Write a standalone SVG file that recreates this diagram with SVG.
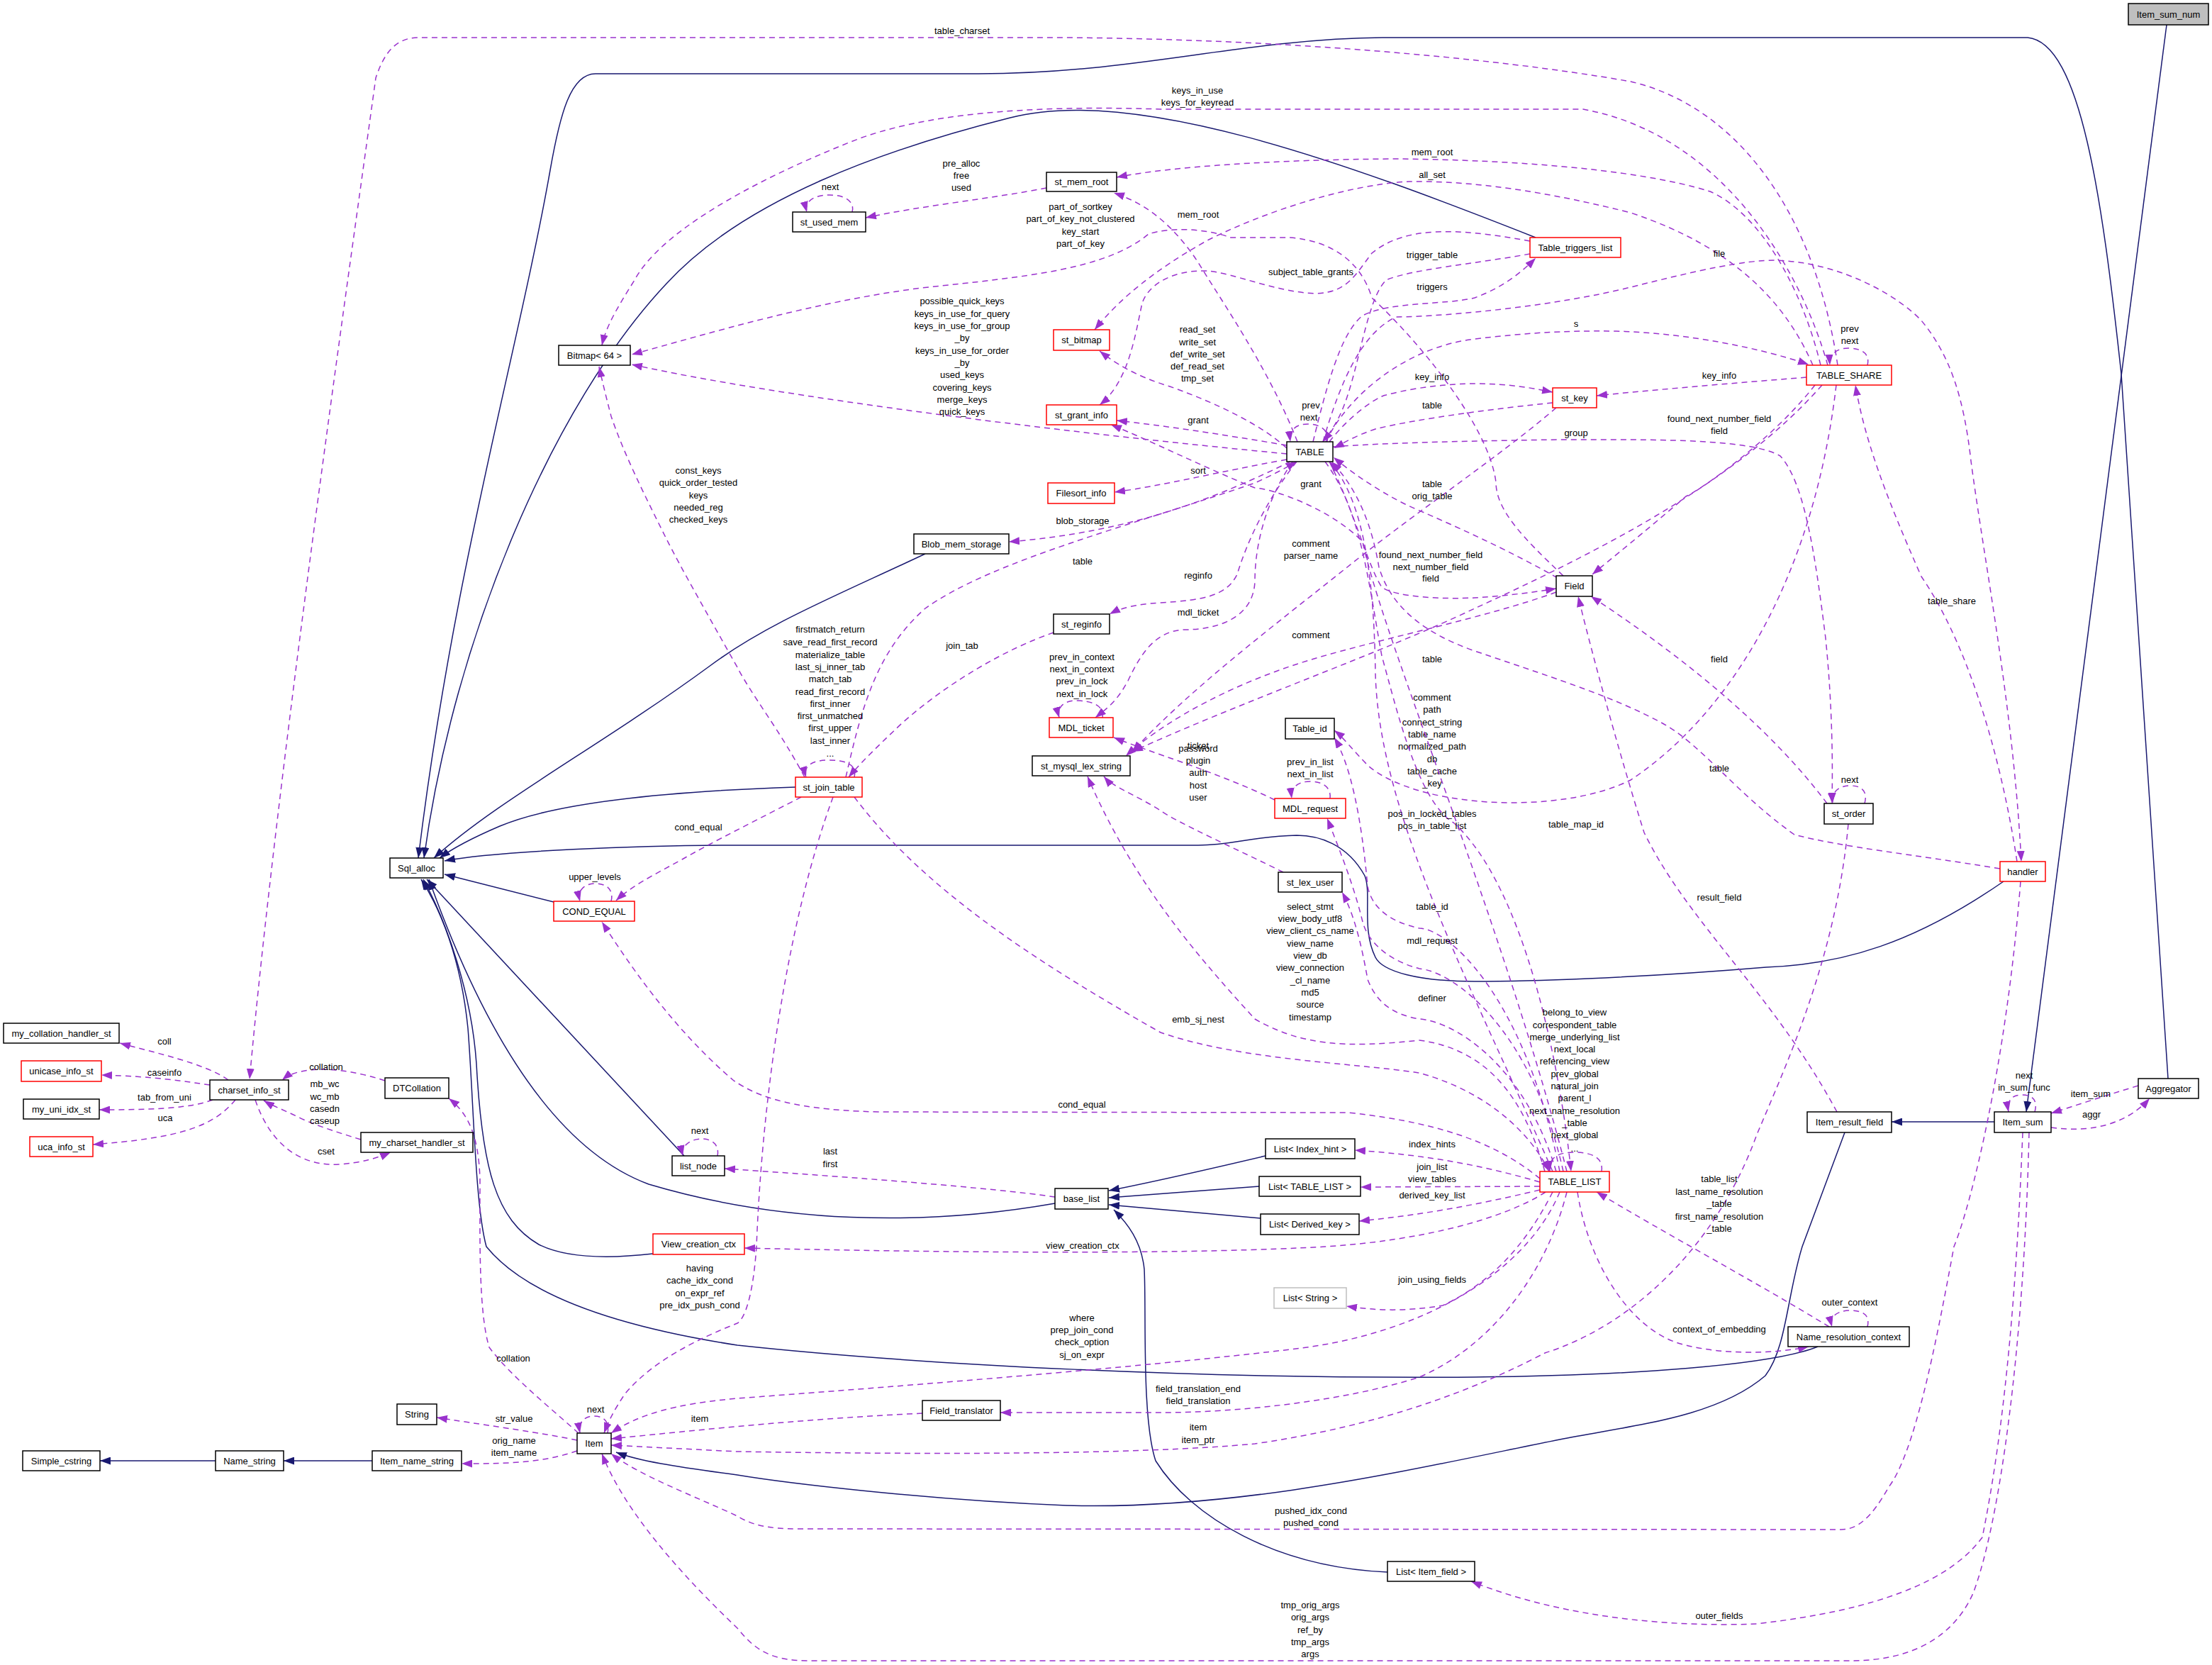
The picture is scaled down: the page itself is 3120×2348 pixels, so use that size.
<svg xmlns="http://www.w3.org/2000/svg" width="3120" height="2348" viewBox="0 0 3120 2348">
<style>
text{font-family:"Liberation Sans",Arial,Helvetica,sans-serif;font-size:13px;fill:#000}
.n rect{fill:#fff;stroke:#000;stroke-width:1.5}
.n.r rect{stroke:#f00}
.n.g rect{stroke:#bfbfbf}
.n.f rect{fill:#bfbfbf}
.n text,.l{text-anchor:middle}
.i{fill:none;stroke:#191970;stroke-width:1.5;marker-end:url(#ai)}
.u{fill:none;stroke:#9a32cd;stroke-width:1.5;stroke-dasharray:8,6;marker-end:url(#au)}
</style>
<defs>
<marker id="ai" markerUnits="userSpaceOnUse" markerWidth="15" markerHeight="11" viewBox="0 0 15 11" refX="15" refY="5.5" orient="auto"><path d="M0,0 L15,5.5 L0,11 z" fill="#191970"/></marker>
<marker id="au" markerUnits="userSpaceOnUse" markerWidth="15" markerHeight="11" viewBox="0 0 15 11" refX="15" refY="5.5" orient="auto"><path d="M0,0 L15,5.5 L0,11 z" fill="#9a32cd"/></marker>
</defs>
<rect width="3120" height="2348" fill="#fff"/>
<g id="connectors">
<path class="i" d="M3056,35 L2858,1568"/>
<path class="i" d="M3058,1521 L2992,527 C2965,280 2935,60 2860,53 L1950,53 C1750,55 1600,104 1380,104 L840,104 C805,104 790,160 776,240 C730,500 640,800 590,1210"/>
<path class="i" d="M2166,335 C1900,230 1600,120 1425,166 C1250,210 1050,280 940,400 C780,570 640,900 598,1210"/>
<path class="i" d="M1305,781 C1180,840 1080,880 1000,940 C850,1050 700,1130 612,1210"/>
<path class="i" d="M1122,1110 C1000,1114 800,1125 705,1165 C670,1180 640,1195 620,1210"/>
<path class="i" d="M781,1272 L627,1233"/>
<path class="i" d="M965,1630 L602,1240"/>
<path class="i" d="M1488,1697 C1300,1730 1100,1725 915,1670 C780,1620 680,1450 605,1240"/>
<path class="i" d="M921,1768 C860,1775 800,1775 760,1755 C700,1720 680,1650 672,1500 C665,1400 630,1300 597,1240"/>
<path class="i" d="M2564,1899 C2500,1925 2300,1940 2080,1942 C1700,1945 1300,1925 1040,1897 C800,1860 720,1800 686,1758 C670,1700 668,1550 660,1450 C650,1350 620,1280 594,1240"/>
<path class="i" d="M2602,1597 L2542,1758 C2520,1830 2520,1900 2490,1940 C2420,2000 2300,2010 2200,2030 C2000,2070 1750,2130 1504,2123 C1300,2115 1100,2090 1040,2080 C950,2068 900,2060 869,2048"/>
<path class="i" d="M2813,1582 L2668,1582"/>
<path class="i" d="M2826,1243 C2700,1330 2600,1360 2491,1364 C2300,1380 2150,1384 2080,1384 C2000,1384 1950,1370 1940,1350 C1920,1310 1935,1260 1925,1235 C1900,1190 1860,1178 1829,1178 C1760,1180 1740,1192 1690,1192 L1040,1192 C900,1192 700,1200 627,1214"/>
<path class="i" d="M304,2060 L141,2060"/>
<path class="i" d="M525,2060 L400,2060"/>
<path class="i" d="M1785,1630 C1700,1650 1620,1668 1564,1679"/>
<path class="i" d="M1776,1673 L1564,1689"/>
<path class="i" d="M1778,1718 L1564,1699"/>
<path class="i" d="M1957,2217 C1800,2210 1680,2140 1630,2060 C1610,2000 1617,1850 1614,1790 C1610,1750 1590,1725 1571,1706"/>

<path class="u" d="M2592,515 C2560,300 2450,150 2300,115 C2100,80 1800,55 1500,53 L590,53 C555,53 540,80 530,110 C490,400 390,1100 352,1522"/>
<text class="l" x="1357" y="48">table_charset</text>
<path class="u" d="M2578,515 C2540,380 2430,190 2233,154 L1637,154 C1450,148 1300,160 1200,200 C1050,260 930,330 895,395 C870,435 855,460 849,487"/>
<text class="l"><tspan x="1689" y="132">keys_in_use</tspan><tspan x="1689" y="149">keys_for_keyread</tspan></text>
<path class="u" d="M2568,515 C2540,400 2480,300 2412,270 C2300,235 2100,225 1969,224 C1800,225 1650,235 1575,250"/>
<text class="l" x="2020" y="219">mem_root</text>
<path class="u" d="M2557,515 C2520,430 2450,350 2300,300 C2150,262 2050,255 1988,256 C1900,260 1780,300 1703,339 C1630,380 1580,420 1544,465"/>
<text class="l" x="2020" y="251">all_set</text>
<path class="u" d="M1830,623 C1790,520 1720,420 1690,370 C1650,310 1610,285 1571,272"/>
<text class="l" x="1690" y="307">mem_root</text>
<path class="u" d="M2205,812 C2150,760 2110,720 2110,680 C2100,600 2000,480 1935,420 C1920,370 1880,340 1820,335 L1736,335 C1700,322 1650,320 1620,330 C1560,380 1450,390 1300,406 C1150,425 1000,470 891,500"/>
<text class="l"><tspan x="1524" y="296">part_of_sortkey</tspan><tspan x="1524" y="313">part_of_key_not_clustered</tspan><tspan x="1524" y="331">key_start</tspan><tspan x="1524" y="348">part_of_key</tspan></text>
<path class="u" d="M1476,265 C1400,280 1300,290 1221,307"/>
<text class="l"><tspan x="1356" y="235">pre_alloc</tspan><tspan x="1356" y="252">free</tspan><tspan x="1356" y="269">used</tspan></text>
<path class="u" d="M1202,299 C1206,284 1192,275 1170,275 C1148,275 1134,284 1138,299"/>
<text class="l" x="1171" y="268">next</text>
<path class="u" d="M2158,340 C2050,320 1980,320 1935,357 C1910,390 1900,412 1856,414 C1800,412 1740,385 1703,382 C1650,380 1615,405 1610,432 C1600,480 1590,540 1551,571"/>
<text class="l" x="1849" y="388">subject_table_grants</text>
<path class="u" d="M2158,358 C2080,372 1990,380 1955,395 C1930,420 1920,500 1900,560 C1890,590 1880,605 1866,623"/>
<text class="l" x="2020" y="364">trigger_table</text>
<path class="u" d="M1852,623 C1870,550 1890,470 1922,445 C1960,425 2040,430 2080,420 C2120,405 2145,385 2166,364"/>
<text class="l" x="2020" y="409">triggers</text>
<path class="u" d="M1815,632 C1780,600 1720,570 1650,545 C1600,530 1570,510 1551,495"/>
<text class="l"><tspan x="1689" y="469">read_set</tspan><tspan x="1689" y="487">write_set</tspan><tspan x="1689" y="504">def_write_set</tspan><tspan x="1689" y="521">def_read_set</tspan><tspan x="1689" y="538">tmp_set</tspan></text>
<path class="u" d="M1815,640 C1500,610 1100,560 891,514"/>
<text class="l"><tspan x="1357" y="429">possible_quick_keys</tspan><tspan x="1357" y="447">keys_in_use_for_query</tspan><tspan x="1357" y="464">keys_in_use_for_group</tspan><tspan x="1357" y="481">_by</tspan><tspan x="1357" y="499">keys_in_use_for_order</tspan><tspan x="1357" y="516">_by</tspan><tspan x="1357" y="533">used_keys</tspan><tspan x="1357" y="551">covering_keys</tspan><tspan x="1357" y="568">merge_keys</tspan><tspan x="1357" y="585">quick_keys</tspan></text>
<path class="u" d="M1815,628 C1720,612 1640,600 1575,593"/>
<text class="l" x="1690" y="597">grant</text>
<path class="u" d="M1815,648 C1720,665 1640,685 1572,694"/>
<text class="l" x="1690" y="668">sort</text>
<path class="u" d="M1820,651 C1720,700 1600,750 1423,764"/>
<text class="l" x="1527" y="739">blob_storage</text>
<path class="u" d="M1193,1096 C1215,1000 1235,920 1305,858 C1400,790 1600,740 1770,681 C1790,672 1810,662 1829,651"/>
<text class="l" x="1527" y="796">table</text>
<path class="u" d="M1205,1096 C1209,1077 1192,1072 1168,1072 C1146,1072 1132,1080 1137,1096"/>
<text class="l"><tspan x="1171" y="892">firstmatch_return</tspan><tspan x="1171" y="910">save_read_first_record</tspan><tspan x="1171" y="928">materialize_table</tspan><tspan x="1171" y="945">last_sj_inner_tab</tspan><tspan x="1171" y="962">match_tab</tspan><tspan x="1171" y="980">read_first_record</tspan><tspan x="1171" y="997">first_inner</tspan><tspan x="1171" y="1014">first_unmatched</tspan><tspan x="1171" y="1031">first_upper</tspan><tspan x="1171" y="1049">last_inner</tspan><tspan x="1171" y="1067">...</tspan></text>
<path class="u" d="M1135,1096 C1100,1030 1060,980 1040,941 C1000,870 960,800 940,760 C910,700 880,640 862,587 C855,560 850,540 845,517"/>
<text class="l"><tspan x="985" y="668">const_keys</tspan><tspan x="985" y="685">quick_order_tested</tspan><tspan x="985" y="703">keys</tspan><tspan x="985" y="720">needed_reg</tspan><tspan x="985" y="737">checked_keys</tspan></text>
<path class="u" d="M1486,892 C1420,915 1340,960 1272,1020 C1230,1060 1210,1080 1197,1096"/>
<text class="l" x="1357" y="915">join_tab</text>
<path class="u" d="M1829,651 C1790,700 1760,760 1745,810 C1730,840 1700,846 1637,850 C1600,852 1580,858 1565,866"/>
<text class="l" x="1690" y="816">reginfo</text>
<path class="u" d="M1823,651 C1790,700 1770,760 1770,820 C1768,870 1720,888 1670,888 C1630,890 1610,920 1591,960 C1575,990 1560,1000 1545,1012"/>
<text class="l" x="1690" y="868">mdl_ticket</text>
<path class="u" d="M1555,1012 C1558,995 1540,988 1518,988 C1500,988 1490,998 1494,1012"/>
<text class="l"><tspan x="1526" y="931">prev_in_context</tspan><tspan x="1526" y="948">next_in_context</tspan><tspan x="1526" y="965">prev_in_lock</tspan><tspan x="1526" y="983">next_in_lock</tspan></text>
<path class="u" d="M1798,1128 C1720,1090 1620,1060 1571,1040"/>
<text class="l" x="1690" y="1056">ticket</text>
<path class="u" d="M1876,1126 C1878,1110 1865,1102 1848,1102 C1831,1102 1820,1110 1822,1126"/>
<text class="l"><tspan x="1848" y="1079">prev_in_list</tspan><tspan x="1848" y="1096">next_in_list</tspan></text>
<path class="u" d="M2195,575 C2120,640 2000,720 1900,800 C1800,880 1680,970 1597,1060"/>
<text class="l"><tspan x="1849" y="771">comment</tspan><tspan x="1849" y="788">parser_name</tspan></text>
<path class="u" d="M2195,835 C2100,870 1950,900 1850,930 C1750,960 1650,1010 1588,1066"/>
<text class="l" x="1849" y="900">comment</text>
<path class="u" d="M2190,1652 C2080,1400 1945,1150 1940,950 C1938,800 1920,700 1875,651"/>
<text class="l" x="2020" y="934">table</text>
<path class="u" d="M2197,815 C2100,760 2000,720 1982,711 C1940,690 1905,665 1881,645"/>
<text class="l"><tspan x="2020" y="687">table</tspan><tspan x="2020" y="704">orig_table</tspan></text>
<path class="u" d="M1875,651 C1910,720 1930,800 1949,828 C1970,843 2040,845 2080,843 C2130,840 2170,834 2195,830"/>
<text class="l"><tspan x="2018" y="787">found_next_number_field</tspan><tspan x="2018" y="804">next_number_field</tspan><tspan x="2018" y="820">field</tspan></text>
<path class="u" d="M2560,543 C2500,620 2400,690 2378,700 C2320,750 2270,790 2246,810"/>
<text class="l"><tspan x="2425" y="595">found_next_number_field</tspan><tspan x="2425" y="612">field</tspan></text>
<path class="u" d="M1880,630 C1950,625 2050,622 2200,620 L2280,620 C2400,620 2480,625 2511,643 C2545,680 2560,780 2575,900 C2585,1000 2585,1080 2584,1133"/>
<text class="l" x="2223" y="615">group</text>
<path class="u" d="M1875,623 C1900,590 1940,560 1955,557 C2000,545 2050,541 2080,541 C2130,541 2165,548 2190,553"/>
<text class="l" x="2020" y="536">key_info</text>
<path class="u" d="M2190,568 C2120,575 2000,590 1940,605 C1910,615 1895,625 1881,632"/>
<text class="l" x="2020" y="576">table</text>
<path class="u" d="M2548,532 C2450,540 2350,548 2252,558"/>
<text class="l" x="2425" y="534">key_info</text>
<path class="u" d="M1870,623 C1900,560 1980,490 2080,478 C2150,470 2200,466 2280,467 C2380,470 2480,490 2551,514"/>
<text class="l" x="2223" y="461">s</text>
<path class="u" d="M2634,515 C2638,498 2625,491 2607,491 C2590,491 2580,500 2581,515"/>
<text class="l"><tspan x="2609" y="468">prev</tspan><tspan x="2609" y="485">next</tspan></text>
<path class="u" d="M2845,1215 C2820,1050 2770,900 2710,813 C2660,700 2630,620 2617,543"/>
<text class="l" x="2753" y="852">table_share</text>
<path class="u" d="M1866,623 C1890,540 1920,470 1969,447 C2050,446 2200,430 2300,405 C2400,380 2460,367 2504,367 C2600,370 2680,420 2710,452 C2750,500 2770,560 2780,650 C2800,800 2840,1000 2851,1215"/>
<text class="l" x="2425" y="362">file</text>
<path class="u" d="M1872,623 C1875,605 1860,598 1845,598 C1828,598 1818,606 1820,623"/>
<text class="l"><tspan x="1849" y="576">prev</tspan><tspan x="1846" y="593">next</tspan></text>
<path class="u" d="M2570,543 C2450,680 2250,780 2080,858 C1950,920 1750,990 1597,1060"/>
<text class="l"><tspan x="2020" y="988">comment</tspan><tspan x="2020" y="1005">path</tspan><tspan x="2020" y="1023">connect_string</tspan><tspan x="2020" y="1040">table_name</tspan><tspan x="2020" y="1057">normalized_path</tspan><tspan x="2020" y="1075">db</tspan><tspan x="2020" y="1092">table_cache</tspan><tspan x="2020" y="1109">_key</tspan></text>
<path class="u" d="M1810,1230 C1750,1200 1660,1160 1637,1143 C1600,1120 1570,1110 1557,1095"/>
<text class="l"><tspan x="1690" y="1060">password</tspan><tspan x="1690" y="1077">plugin</tspan><tspan x="1690" y="1094">auth</tspan><tspan x="1690" y="1112">host</tspan><tspan x="1690" y="1129">user</tspan></text>
<path class="u" d="M2179,1652 C2150,1550 2100,1480 2002,1467 C1900,1478 1836,1475 1770,1437 C1700,1360 1600,1250 1534,1095"/>
<text class="l"><tspan x="1848" y="1283">select_stmt</tspan><tspan x="1848" y="1300">view_body_utf8</tspan><tspan x="1848" y="1317">view_client_cs_name</tspan><tspan x="1848" y="1335">view_name</tspan><tspan x="1848" y="1352">view_db</tspan><tspan x="1848" y="1369">view_connection</tspan><tspan x="1848" y="1387">_cl_name</tspan><tspan x="1848" y="1404">md5</tspan><tspan x="1848" y="1421">source</tspan><tspan x="1848" y="1439">timestamp</tspan></text>
<path class="u" d="M1205,1124 C1300,1250 1450,1350 1637,1456 C1750,1495 1900,1498 2002,1513 C2100,1540 2160,1600 2185,1652"/>
<text class="l" x="1690" y="1442">emb_sj_nest</text>
<path class="u" d="M2172,1662 C2120,1620 2050,1585 1902,1569 L1239,1568 C1100,1565 1060,1540 1035,1524 C960,1460 900,1380 849,1300"/>
<text class="l" x="1526" y="1562">cond_equal</text>
<path class="u" d="M1130,1124 C1080,1150 1000,1190 962,1212 C920,1235 890,1250 869,1270"/>
<text class="l" x="985" y="1171">cond_equal</text>
<path class="u" d="M862,1271 C866,1255 856,1246 840,1246 C824,1246 814,1255 818,1271"/>
<text class="l" x="839" y="1241">upper_levels</text>
<path class="u" d="M1012,1630 C1015,1615 1005,1606 990,1606 C975,1606 960,1615 963,1630"/>
<text class="l" x="987" y="1599">next</text>
<path class="u" d="M1488,1688 C1400,1675 1200,1660 1022,1648"/>
<text class="l"><tspan x="1171" y="1628">last</tspan><tspan x="1171" y="1646">first</tspan></text>
<path class="u" d="M2172,1667 C2080,1640 2000,1628 1911,1622"/>
<text class="l" x="2020" y="1618">index_hints</text>
<path class="u" d="M2172,1673 L1919,1674"/>
<text class="l"><tspan x="2020" y="1650">join_list</tspan><tspan x="2020" y="1667">view_tables</tspan></text>
<path class="u" d="M2172,1678 C2080,1700 2000,1714 1917,1722"/>
<text class="l" x="2020" y="1690">derived_key_list</text>
<path class="u" d="M2180,1681 C2120,1720 2000,1750 1869,1758 C1700,1768 1400,1768 1050,1760"/>
<text class="l" x="1527" y="1761">view_creation_ctx</text>
<path class="u" d="M2190,1681 C2150,1760 2100,1810 2035,1841 C1980,1850 1940,1848 1899,1842"/>
<text class="l" x="2020" y="1809">join_using_fields</text>
<path class="u" d="M2200,1681 C2150,1800 2000,1880 1836,1901 C1600,1930 1200,1960 1040,1972 C950,1980 900,1995 862,2021"/>
<text class="l"><tspan x="1526" y="1863">where</tspan><tspan x="1526" y="1880">prep_join_cond</tspan><tspan x="1526" y="1897">check_option</tspan><tspan x="1526" y="1915">sj_on_expr</tspan></text>
<path class="u" d="M2210,1681 C2180,1800 2100,1900 2002,1942 C1900,1975 1750,1992 1637,1992 L1411,1992"/>
<text class="l"><tspan x="1690" y="1963">field_translation_end</tspan><tspan x="1690" y="1980">field_translation</tspan></text>
<path class="u" d="M1301,1993 C1150,2000 1000,2015 862,2029"/>
<text class="l" x="987" y="2005">item</text>
<path class="u" d="M2607,1162 C2590,1350 2520,1500 2478,1600 C2420,1760 2300,1870 2179,1908 C2080,1960 1950,2010 1770,2036 C1600,2052 1300,2051 1040,2047 L862,2038"/>
<text class="l"><tspan x="1690" y="2017">item</tspan><tspan x="1690" y="2035">item_ptr</tspan></text>
<path class="u" d="M2850,1243 C2830,1500 2780,1700 2756,1758 C2730,1900 2700,2050 2664,2097 C2640,2140 2620,2157 2597,2157 L1126,2156 C1080,2156 1060,2150 1040,2138 C980,2110 900,2080 862,2050"/>
<text class="l"><tspan x="1849" y="2135">pushed_idx_cond</tspan><tspan x="1849" y="2152">pushed_cond</tspan></text>
<path class="u" d="M2853,1597 C2845,1800 2830,2000 2796,2168 C2750,2230 2650,2270 2478,2290 C2350,2295 2200,2280 2075,2230"/>
<text class="l" x="2425" y="2283">outer_fields</text>
<path class="u" d="M2862,1597 C2855,1900 2820,2150 2783,2247 C2750,2320 2680,2342 2611,2342 L1139,2342 C1080,2342 1060,2320 1040,2296 C960,2220 880,2130 849,2050"/>
<text class="l"><tspan x="1848" y="2268">tmp_orig_args</tspan><tspan x="1848" y="2285">orig_args</tspan><tspan x="1848" y="2303">ref_by</tspan><tspan x="1848" y="2320">tmp_args</tspan><tspan x="1848" y="2337">args</tspan></text>
<path class="u" d="M3016,1531 C2970,1545 2930,1558 2893,1570"/>
<text class="l" x="2949" y="1547">item_sum</text>
<path class="u" d="M2893,1590 C2950,1598 3000,1585 3032,1549"/>
<text class="l" x="2950" y="1576">aggr</text>
<path class="u" d="M2870,1568 C2875,1550 2865,1544 2852,1544 C2838,1544 2830,1552 2833,1568"/>
<text class="l"><tspan x="2855" y="1521">next</tspan><tspan x="2855" y="1538">in_sum_func</tspan></text>
<path class="u" d="M2591,1568 C2500,1400 2380,1300 2319,1174 C2280,1050 2240,900 2226,841"/>
<text class="l" x="2425" y="1270">result_field</text>
<path class="u" d="M2577,1133 C2500,1030 2380,930 2244,841"/>
<text class="l" x="2425" y="934">field</text>
<path class="u" d="M2630,1133 C2635,1115 2625,1108 2610,1108 C2595,1108 2583,1115 2585,1133"/>
<text class="l" x="2609" y="1104">next</text>
<path class="u" d="M2590,543 C2560,800 2450,1000 2300,1100 C2200,1150 2000,1140 1930,1080 C1910,1060 1895,1040 1882,1030"/>
<text class="l" x="2223" y="1167">table_map_id</text>
<path class="u" d="M2200,1652 C2150,1400 2040,1309 2002,1309 C1960,1300 1935,1280 1929,1250 C1920,1150 1905,1080 1882,1040"/>
<text class="l" x="2020" y="1283">table_id</text>
<path class="u" d="M2205,1652 C2160,1450 2050,1370 2002,1366 C1960,1355 1930,1330 1922,1300 C1910,1250 1890,1200 1872,1154"/>
<text class="l" x="2020" y="1331">mdl_request</text>
<path class="u" d="M2195,1652 C2150,1500 2050,1440 2002,1437 C1960,1430 1940,1410 1929,1381 C1920,1330 1910,1290 1893,1258"/>
<text class="l" x="2020" y="1412">definer</text>
<path class="u" d="M1869,651 C1920,720 1930,820 1949,925 C1970,1000 2000,1130 2050,1160 C2150,1250 2200,1500 2216,1652"/>
<text class="l"><tspan x="2020" y="1152">pos_in_locked_tables</tspan><tspan x="2020" y="1169">pos_in_table_list</tspan></text>
<path class="u" d="M2210,1652 C2120,1300 1950,900 1922,764 C1880,720 1800,690 1770,688 C1700,660 1620,620 1567,599"/>
<text class="l" x="1849" y="687">grant</text>
<path class="u" d="M2259,1652 C2262,1632 2245,1625 2220,1625 C2198,1625 2184,1632 2186,1652"/>
<text class="l"><tspan x="2221" y="1432">belong_to_view</tspan><tspan x="2221" y="1450">correspondent_table</tspan><tspan x="2221" y="1467">merge_underlying_list</tspan><tspan x="2221" y="1484">next_local</tspan><tspan x="2221" y="1501">referencing_view</tspan><tspan x="2221" y="1519">prev_global</tspan><tspan x="2221" y="1536">natural_join</tspan><tspan x="2221" y="1553">parent_l</tspan><tspan x="2221" y="1571">next_name_resolution</tspan><tspan x="2221" y="1588">_table</tspan><tspan x="2221" y="1605">next_global</tspan><tspan x="2221" y="1624">...</tspan></text>
<path class="u" d="M2580,1871 C2480,1810 2350,1740 2252,1681"/>
<text class="l"><tspan x="2425" y="1667">table_list</tspan><tspan x="2425" y="1685">last_name_resolution</tspan><tspan x="2425" y="1702">_table</tspan><tspan x="2425" y="1720">first_name_resolution</tspan><tspan x="2425" y="1737">_table</tspan></text>
<path class="u" d="M2225,1681 C2240,1780 2300,1880 2378,1897 C2430,1910 2500,1910 2551,1899"/>
<text class="l" x="2425" y="1879">context_of_embedding</text>
<path class="u" d="M2634,1871 C2638,1855 2628,1848 2610,1848 C2592,1848 2580,1856 2584,1871"/>
<text class="l" x="2609" y="1841">outer_context</text>
<path class="u" d="M1175,1124 C1110,1300 1075,1550 1067,1758 C1062,1830 1050,1860 1040,1866 C980,1890 920,1920 882,1965 C865,1990 858,2005 852,2021"/>
<text class="l"><tspan x="987" y="1793">having</tspan><tspan x="987" y="1810">cache_idx_cond</tspan><tspan x="987" y="1828">on_expr_ref</tspan><tspan x="987" y="1845">pre_idx_push_cond</tspan></text>
<path class="u" d="M816,2021 C770,1980 720,1940 690,1900 C675,1850 677,1750 677,1663 C675,1600 660,1570 633,1549"/>
<text class="l" x="724" y="1920">collation</text>
<path class="u" d="M857,2021 C860,2005 852,1997 838,1997 C825,1997 815,2005 818,2021"/>
<text class="l" x="840" y="1992">next</text>
<path class="u" d="M814,2031 C760,2020 700,2012 616,1999"/>
<text class="l" x="725" y="2005">str_value</text>
<path class="u" d="M814,2046 C760,2065 700,2064 651,2064"/>
<text class="l"><tspan x="725" y="2036">orig_name</tspan><tspan x="725" y="2053">item_name</tspan></text>
<path class="u" d="M543,1524 C500,1510 460,1505 430,1510 C412,1513 404,1518 398,1523"/>
<text class="l" x="460" y="1509">collation</text>
<path class="u" d="M509,1607 C470,1595 440,1585 420,1575 C400,1565 385,1560 372,1552"/>
<text class="l"><tspan x="458" y="1533">mb_wc</tspan><tspan x="458" y="1551">wc_mb</tspan><tspan x="458" y="1568">casedn</tspan><tspan x="458" y="1585">caseup</tspan></text>
<path class="u" d="M360,1551 C380,1610 420,1645 478,1642 C510,1640 535,1632 551,1625"/>
<text class="l" x="460" y="1628">cset</text>
<path class="u" d="M322,1523 C290,1500 220,1485 169,1471"/>
<text class="l" x="232" y="1473">coll</text>
<path class="u" d="M296,1530 C260,1525 220,1518 143,1516"/>
<text class="l" x="232" y="1517">caseinfo</text>
<path class="u" d="M300,1551 C270,1562 230,1565 140,1565"/>
<text class="l" x="232" y="1552">tab_from_uni</text>
<path class="u" d="M332,1551 C300,1590 250,1605 131,1614"/>
<text class="l" x="233" y="1581">uca</text>
<path class="u" d="M2821,1225 C2700,1205 2600,1195 2531,1177 C2450,1120 2400,1050 2345,1020 C2280,985 2213,963 2080,918 C2000,890 1960,850 1945,800 C1935,740 1915,690 1878,651"/>
<text class="l" x="2425" y="1088">table</text>
</g>
<g id="n-Item_sum_num" class="n f"><rect x="3002" y="5" width="113" height="30"/><text x="3058.5" y="24.5">Item_sum_num</text></g>
<g id="n-Bitmap64" class="n"><rect x="788" y="487" width="101" height="28"/><text x="838.5" y="505.5">Bitmap&lt; 64 &gt;</text></g>
<g id="n-st_mem_root" class="n"><rect x="1476" y="243" width="99" height="27"/><text x="1525.5" y="261">st_mem_root</text></g>
<g id="n-st_used_mem" class="n"><rect x="1118" y="299" width="103" height="28"/><text x="1169.5" y="317.5">st_used_mem</text></g>
<g id="n-st_bitmap" class="n r"><rect x="1486" y="465" width="79" height="29"/><text x="1525.5" y="484">st_bitmap</text></g>
<g id="n-st_grant_info" class="n r"><rect x="1476" y="571" width="99" height="28"/><text x="1525.5" y="589.5">st_grant_info</text></g>
<g id="n-Table_triggers_list" class="n r"><rect x="2158" y="335" width="128" height="28"/><text x="2222" y="353.5">Table_triggers_list</text></g>
<g id="n-TABLE_SHARE" class="n r"><rect x="2548" y="515" width="120" height="28"/><text x="2608" y="533.5">TABLE_SHARE</text></g>
<g id="n-st_key" class="n r"><rect x="2190" y="547" width="62" height="28"/><text x="2221" y="565.5">st_key</text></g>
<g id="n-TABLE" class="n"><rect x="1815" y="623" width="65" height="28"/><text x="1847.5" y="641.5">TABLE</text></g>
<g id="n-Filesort_info" class="n r"><rect x="1478" y="681" width="94" height="29"/><text x="1525" y="700">Filesort_info</text></g>
<g id="n-Blob_mem_storage" class="n"><rect x="1289" y="753" width="134" height="28"/><text x="1356" y="771.5">Blob_mem_storage</text></g>
<g id="n-st_reginfo" class="n"><rect x="1486" y="866" width="79" height="28"/><text x="1525.5" y="884.5">st_reginfo</text></g>
<g id="n-MDL_ticket" class="n r"><rect x="1480" y="1012" width="90" height="28"/><text x="1525" y="1030.5">MDL_ticket</text></g>
<g id="n-st_mysql_lex_string" class="n"><rect x="1456" y="1066" width="138" height="28"/><text x="1525" y="1084.5">st_mysql_lex_string</text></g>
<g id="n-Table_id" class="n"><rect x="1813" y="1013" width="69" height="29"/><text x="1847.5" y="1032">Table_id</text></g>
<g id="n-MDL_request" class="n r"><rect x="1798" y="1126" width="100" height="28"/><text x="1848" y="1144.5">MDL_request</text></g>
<g id="n-st_join_table" class="n r"><rect x="1122" y="1096" width="94" height="28"/><text x="1169" y="1114.5">st_join_table</text></g>
<g id="n-Field" class="n"><rect x="2195" y="812" width="51" height="29"/><text x="2220.5" y="831">Field</text></g>
<g id="n-st_order" class="n"><rect x="2573" y="1133" width="69" height="29"/><text x="2607.5" y="1152">st_order</text></g>
<g id="n-Sql_alloc" class="n"><rect x="550" y="1210" width="75" height="28"/><text x="587.5" y="1228.5">Sql_alloc</text></g>
<g id="n-COND_EQUAL" class="n r"><rect x="781" y="1271" width="114" height="28"/><text x="838" y="1289.5">COND_EQUAL</text></g>
<g id="n-my_collation_handler_st" class="n"><rect x="5" y="1443" width="163" height="28"/><text x="86.5" y="1461.5">my_collation_handler_st</text></g>
<g id="n-unicase_info_st" class="n r"><rect x="30" y="1496" width="113" height="29"/><text x="86.5" y="1515">unicase_info_st</text></g>
<g id="n-charset_info_st" class="n"><rect x="296" y="1523" width="111" height="28"/><text x="351.5" y="1541.5">charset_info_st</text></g>
<g id="n-DTCollation" class="n"><rect x="543" y="1520" width="90" height="29"/><text x="588" y="1539">DTCollation</text></g>
<g id="n-my_uni_idx_st" class="n"><rect x="33" y="1550" width="107" height="28"/><text x="86.5" y="1568.5">my_uni_idx_st</text></g>
<g id="n-uca_info_st" class="n r"><rect x="42" y="1603" width="89" height="28"/><text x="86.5" y="1621.5">uca_info_st</text></g>
<g id="n-my_charset_handler_st" class="n"><rect x="509" y="1597" width="158" height="28"/><text x="588" y="1615.5">my_charset_handler_st</text></g>
<g id="n-list_node" class="n"><rect x="948" y="1630" width="74" height="28"/><text x="985" y="1648.5">list_node</text></g>
<g id="n-View_creation_ctx" class="n r"><rect x="921" y="1740" width="129" height="29"/><text x="985.5" y="1759">View_creation_ctx</text></g>
<g id="n-st_lex_user" class="n"><rect x="1803" y="1230" width="90" height="28"/><text x="1848" y="1248.5">st_lex_user</text></g>
<g id="n-List_Index_hint" class="n"><rect x="1785" y="1606" width="126" height="28"/><text x="1848" y="1624.5">List&lt; Index_hint &gt;</text></g>
<g id="n-List_TABLE_LIST" class="n"><rect x="1776" y="1659" width="143" height="28"/><text x="1847.5" y="1677.5">List&lt; TABLE_LIST &gt;</text></g>
<g id="n-base_list" class="n"><rect x="1488" y="1676" width="75" height="29"/><text x="1525.5" y="1695">base_list</text></g>
<g id="n-List_Derived_key" class="n"><rect x="1778" y="1712" width="139" height="29"/><text x="1847.5" y="1731">List&lt; Derived_key &gt;</text></g>
<g id="n-handler" class="n r"><rect x="2821" y="1215" width="64" height="28"/><text x="2853" y="1233.5">handler</text></g>
<g id="n-Item_result_field" class="n"><rect x="2549" y="1568" width="119" height="29"/><text x="2608.5" y="1587">Item_result_field</text></g>
<g id="n-Item_sum" class="n"><rect x="2813" y="1568" width="80" height="29"/><text x="2853" y="1587">Item_sum</text></g>
<g id="n-Aggregator" class="n"><rect x="3016" y="1521" width="85" height="28"/><text x="3058.5" y="1539.5">Aggregator</text></g>
<g id="n-TABLE_LIST" class="n r"><rect x="2172" y="1652" width="98" height="29"/><text x="2221" y="1671">TABLE_LIST</text></g>
<g id="n-String" class="n"><rect x="560" y="1980" width="56" height="29"/><text x="588" y="1999">String</text></g>
<g id="n-Item" class="n"><rect x="814" y="2021" width="48" height="29"/><text x="838" y="2040">Item</text></g>
<g id="n-Simple_cstring" class="n"><rect x="32" y="2046" width="109" height="28"/><text x="86.5" y="2064.5">Simple_cstring</text></g>
<g id="n-Name_string" class="n"><rect x="304" y="2046" width="96" height="28"/><text x="352" y="2064.5">Name_string</text></g>
<g id="n-Item_name_string" class="n"><rect x="525" y="2046" width="126" height="28"/><text x="588" y="2064.5">Item_name_string</text></g>
<g id="n-List_String" class="n g"><rect x="1797" y="1816" width="102" height="29"/><text x="1848" y="1835">List&lt; String &gt;</text></g>
<g id="n-Field_translator" class="n"><rect x="1301" y="1975" width="110" height="28"/><text x="1356" y="1993.5">Field_translator</text></g>
<g id="n-List_Item_field" class="n"><rect x="1957" y="2202" width="123" height="28"/><text x="2018.5" y="2220.5">List&lt; Item_field &gt;</text></g>
<g id="n-Name_resolution_context" class="n"><rect x="2522" y="1871" width="171" height="28"/><text x="2607.5" y="1889.5">Name_resolution_context</text></g>
</svg>
